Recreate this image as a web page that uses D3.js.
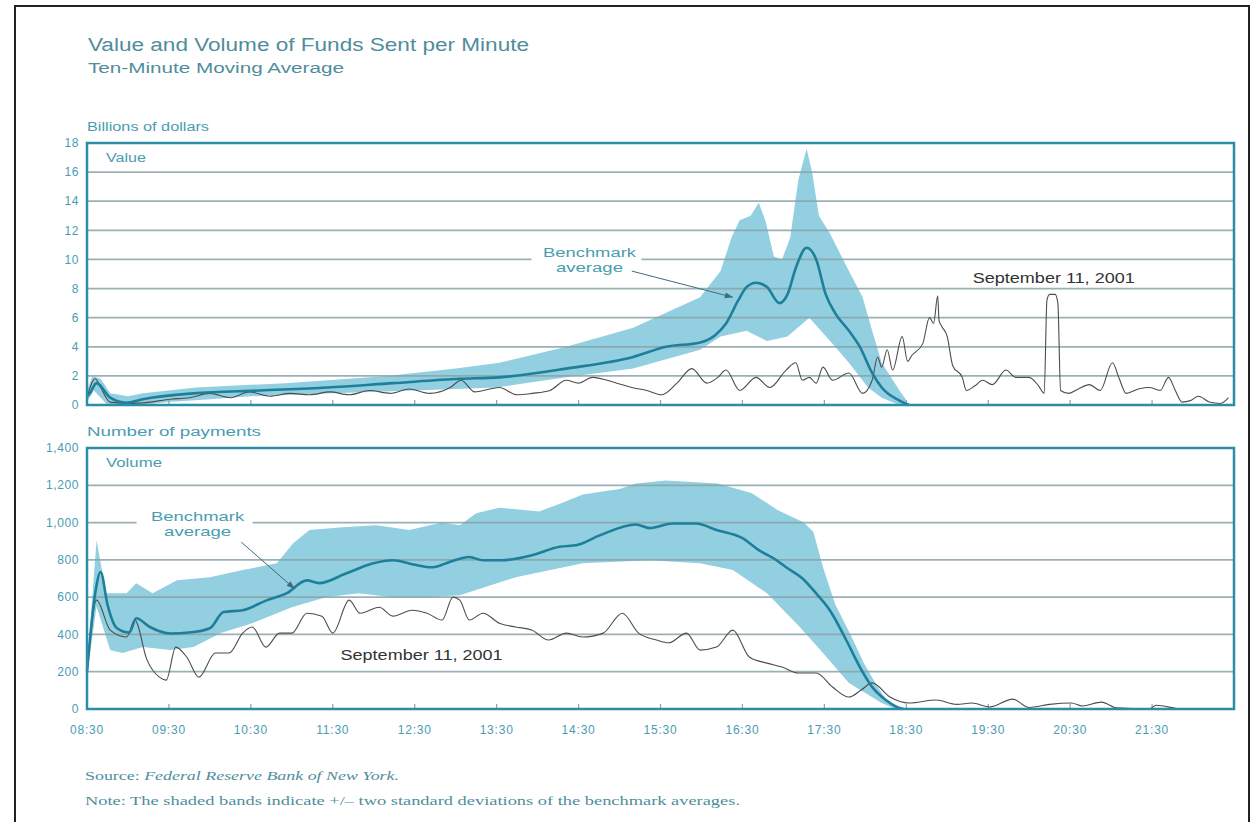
<!DOCTYPE html>
<html>
<head>
<meta charset="utf-8">
<script src="https://cdn.jsdelivr.net/npm/d3@7"></script>
<style>
  body { margin: 0; background: #fff; }
  svg { display: block; }
</style>
</head>
<body>
<div id="chart"></div>
<script>
// axis ticks
const timeTicks = ["08:30","09:30","10:30","11:30","12:30","13:30","14:30","15:30","16:30","17:30","18:30","19:30","20:30","21:30"];
const valueTicks = [0, 2, 4, 6, 8, 10, 12, 14, 16, 18];
const volumeTicks = [0, 200, 400, 600, 800, 1000, 1200, 1400];

// value panel (billions of dollars)
const valueBench = [
  ["08:30",0.6],["08:32",0.8],["08:37",1.5],["08:47",0.5],["08:59",0.15],["09:11",0.4],["09:48",0.8],
  ["10:37",1.0],["11:26",1.2],["12:14",1.5],["13:03",1.8],["13:32",1.9],["14:21",2.5],["15:10",3.3],
  ["15:34",4.0],["15:59",4.3],["16:10",4.8],["16:18",5.6],["16:27",7.2],["16:33",8.1],["16:40",8.4],
  ["16:48",8.1],["16:57",7.0],["17:03",7.6],["17:09",9.4],["17:17",10.8],["17:24",10.0],["17:31",7.6],
  ["17:38",6.3],["17:48",5.1],["17:56",4.0],["18:05",2.2],["18:12",1.2],["18:25",0.3],["18:32",0]
];
const valueUpper = [
  ["08:30",1.0],["08:34",2.0],["08:40",1.8],["08:47",0.8],["09:00",0.6],["09:11",0.8],["09:50",1.2],
  ["10:55",1.5],["12:10",2.0],["13:00",2.5],["13:32",2.9],["14:21",4.0],["15:10",5.3],["15:59",7.4],
  ["16:14",9.2],["16:22",11.5],["16:28",12.7],["16:36",13.0],["16:42",13.9],["16:47",12.6],["16:53",10.2],
  ["16:59",10.0],["17:05",11.5],["17:11",15.5],["17:17",17.6],["17:21",16.0],["17:26",13.0],["17:34",11.8],
  ["17:48",9.2],["17:58",7.4],["18:05",5.1],["18:12",2.9],["18:25",1.0],["18:31",0.2]
];
const valueLower = [
  ["08:30",0.2],["08:35",1.0],["08:45",0],["09:10",0],["09:30",0.2],["10:00",0.4],["10:30",0.6],
  ["11:30",0.8],["12:30",1.0],["13:30",1.2],["14:21",1.9],["15:10",2.5],["15:59",3.8],["16:14",4.7],
  ["16:33",5.1],["16:48",4.4],["17:03",4.7],["17:19",6.0],["17:36",4.2],["17:48",2.9],["18:02",1.2],
  ["18:12",0.5],["18:25",0]
];
const valueSep11 = [
  ["08:30",0.5],["08:36",1.8],["08:40",1.2],["08:47",0.2],["09:01",0.1],["09:16",0.2],["09:31",0.4],
  ["09:45",0.5],["10:00",0.8],["10:15",0.5],["10:29",0.9],["10:44",0.6],["10:59",0.8],["11:13",0.7],
  ["11:28",0.9],["11:42",0.7],["11:57",1.0],["12:12",0.8],["12:26",1.1],["12:41",0.8],["12:56",1.2],
  ["13:04",1.7],["13:14",0.9],["13:25",1.1],["13:32",1.2],["13:45",0.7],["13:56",0.8],["14:09",1.0],
  ["14:21",1.7],["14:30",1.5],["14:40",1.9],["14:58",1.5],["15:09",1.2],["15:20",1.0],["15:31",0.7],
  ["15:42",1.5],["15:53",2.5],["16:04",1.5],["16:12",1.9],["16:18",2.4],["16:28",1.0],["16:40",1.9],
  ["16:50",1.2],["17:02",2.4],["17:09",2.9],["17:14",1.7],["17:19",1.9],["17:24",1.5],["17:29",2.6],
  ["17:36",1.7],["17:48",2.2],["17:58",0.8],["18:05",1.7],["18:09",3.3],["18:12",2.6],["18:16",3.8],
  ["18:20",2.4],["18:27",4.7],["18:31",3.0],["18:34",3.4],["18:42",4.2],["18:47",6.0],["18:50",5.6],
  ["18:53",7.5],["18:54",5.8],["18:56",5.4],["19:00",4.7],["19:04",2.7],["19:11",1.9],["19:14",1.0],
  ["19:20",1.3],["19:26",1.7],["19:33",1.4],["19:43",2.4],["19:50",1.9],["20:00",1.9],["20:07",1.3],
  ["20:11",0.8],["20:13",7.2],["20:15",7.6],["20:19",7.6],["20:21",7.0],["20:23",1.0],["20:29",0.8],
  ["20:36",1.1],["20:44",1.4],["20:52",1.0],["21:01",2.9],["21:06",1.8],["21:11",0.8],["21:20",1.1],
  ["21:28",1.2],["21:36",1.0],["21:42",1.9],["21:47",1.0],["21:52",0.2],["21:58",0.3],["22:04",0.6],
  ["22:12",0.2],["22:20",0.1],["22:26",0.5]
];

// volume panel (number of payments)
const volumeBench = [
  ["08:30",200],["08:36",620],["08:40",735],["08:45",560],["08:52",433],["09:01",410],["09:06",487],
  ["09:16",440],["09:31",405],["09:45",410],["10:00",433],["10:10",520],["10:24",530],["10:42",584],
  ["10:56",620],["11:11",690],["11:20",675],["11:40",728],["11:59",780],["12:14",798],["12:29",775],
  ["12:43",760],["12:56",790],["13:10",815],["13:20",798],["13:34",798],["13:56",825],["14:16",870],
  ["14:29",880],["14:45",930],["15:12",990],["15:22",970],["15:39",995],["15:56",995],["16:11",960],
  ["16:30",916],["16:42",852],["16:55",798],["17:02",760],["17:14",700],["17:24",620],["17:34",530],
  ["17:46",370],["17:56",225],["18:05",118],["18:15",48],["18:23",11],["18:28",0]
];
const volumeUpper = [
  ["08:30",220],["08:37",905],["08:44",621],["08:59",621],["09:06",675],["09:18",621],["09:36",690],
  ["10:00",707],["10:24",745],["10:49",782],["11:01",889],["11:13",960],["11:37",975],["12:02",985],
  ["12:26",960],["12:50",1000],["13:03",985],["13:15",1050],["13:32",1080],["14:01",1060],["14:16",1100],
  ["14:33",1150],["15:00",1180],["15:12",1210],["15:34",1226],["16:12",1210],["16:37",1157],
  ["16:56",1066],["17:15",1000],["17:22",950],["17:29",760],["17:38",560],["17:50",386],["17:59",246],
  ["18:09",118],["18:17",32],["18:25",0]
];
const volumeLower = [
  ["08:30",180],["08:37",550],["08:47",316],["08:56",300],["09:11",332],["09:31",316],["09:48",332],
  ["10:08",407],["10:31",460],["11:00",546],["11:25",600],["11:49",621],["12:14",600],["12:38",600],
  ["13:03",610],["13:20",650],["13:44",707],["14:33",782],["15:22",798],["15:59",782],["16:23",745],
  ["16:48",621],["17:12",440],["17:29",300],["17:48",140],["18:00",86],["18:12",32],["18:22",0]
];
const volumeSep11 = [
  ["08:30",193],["08:37",584],["08:47",423],["08:59",386],["09:05",477],["09:14",262],["09:23",171],
  ["09:28",155],["09:35",332],["09:43",279],["09:52",171],["10:04",300],["10:14",300],["10:24",407],
  ["10:31",440],["10:41",332],["10:51",407],["11:00",407],["11:11",514],["11:22",498],["11:30",407],
  ["11:42",584],["11:50",514],["12:04",546],["12:14",498],["12:28",530],["12:39",514],["12:50",477],
  ["12:58",600],["13:03",584],["13:10",477],["13:20",514],["13:32",460],["13:44",440],["13:56",423],
  ["14:08",370],["14:21",407],["14:33",386],["14:48",407],["15:02",514],["15:14",407],["15:27",370],
  ["15:36",355],["15:49",407],["15:59",316],["16:11",332],["16:23",423],["16:35",279],["16:48",246],
  ["16:59",225],["17:11",193],["17:24",193],["17:36",118],["17:48",64],["17:57",102],["18:05",140],
  ["18:18",64],["18:32",32],["18:52",48],["19:07",25],["19:18",32],["19:31",11],["19:48",53],
  ["20:00",8],["20:15",25],["20:31",32],["20:39",16],["20:53",37],["21:04",6],["21:28",0],["21:33",20],
  ["21:52",0],["22:26",0]
];

const W = 1252, H = 822;
const TEAL_TEXT = "#4a9cb2";
const TITLE = "#4f8d9c";
const FRAME = "#2b8ea6";
const GRID = "#8aa3a8";
const BAND = "#92cfe1";
const BENCH = "#1d7f99";
const SEP = "#4d4d4d";

const parse = d3.timeParse("%H:%M");
const x = d3.scaleTime().domain([parse("08:30"), parse("22:30")]).range([87, 1234]);

const svg = d3.select("#chart").append("svg")
  .attr("width", W).attr("height", H)
  .style("font-family", "'Liberation Sans', Arial, sans-serif");

// stretch a text to the width it has in the picture
const fit = (sel, len) => sel.attr("textLength", len).attr("lengthAdjust", "spacingAndGlyphs");

// outer frame
svg.append("rect")
  .attr("x", 15).attr("y", 6).attr("width", 1234).attr("height", 830)
  .attr("fill", "none").attr("stroke", "#222").attr("stroke-width", 2);

svg.append("text").attr("x", 88).attr("y", 51)
  .attr("fill", TITLE).style("font-size", "18px")
  .text("Value and Volume of Funds Sent per Minute").call(fit, 441);
svg.append("text").attr("x", 88).attr("y", 73)
  .attr("fill", TITLE).style("font-size", "14px")
  .text("Ten-Minute Moving Average").call(fit, 256);

const drawPanel = (cfg) => {
  const { y, ticks, fmt, unit, name, bench, upper, lower, sep } = cfg;
  const [bottom, top] = y.range();
  const g = svg.append("g");

  g.append("text").attr("x", 87).attr("y", top - 12)
    .attr("fill", TEAL_TEXT).style("font-size", "12.5px").text(unit).call(fit, cfg.unitLen);

  // band
  const pts = upper.map(d => [x(parse(d[0])), y(d[1])])
    .concat(lower.slice().reverse().map(d => [x(parse(d[0])), y(d[1])]));
  g.append("path")
    .attr("d", d3.line()(pts) + "Z")
    .attr("fill", BAND);

  // gridlines
  g.selectAll(".grid").data(ticks.filter(t => t !== ticks[0] && t !== ticks[ticks.length - 1]))
    .join("line")
    .attr("x1", 87).attr("x2", 1234)
    .attr("y1", d => y(d)).attr("y2", d => y(d))
    .attr("stroke", GRID).attr("stroke-width", 1.8).attr("opacity", 0.85);

  // y tick labels
  g.selectAll(".yl").data(ticks).join("text")
    .attr("x", 79).attr("y", d => y(d)).attr("dy", "0.35em")
    .attr("text-anchor", "end").attr("fill", TEAL_TEXT)
    .style("font-size", "12px").style("letter-spacing", "0.6px").text(d => fmt(d));

  // hour ticks on the bottom edge
  g.selectAll(".xt").data(timeTicks.slice(1)).join("line")
    .attr("x1", d => x(parse(d))).attr("x2", d => x(parse(d)))
    .attr("y1", bottom).attr("y2", bottom - 5)
    .attr("stroke", GRID).attr("stroke-width", 1.2);

  // benchmark knock-out + label
  const lab = cfg.label;
  const cx = x(parse(lab.t));
  g.append("rect")
    .attr("x", cx - lab.w / 2 - 3).attr("y", y(lab.v) - 3)
    .attr("width", lab.w).attr("height", 6).attr("fill", "#fff");
  g.append("text").attr("x", cx).attr("y", y(lab.v) - 2).attr("text-anchor", "middle")
    .attr("fill", TEAL_TEXT).style("font-size", "13.5px").text("Benchmark").call(fit, 93);
  g.append("text").attr("x", cx).attr("y", y(lab.v) + 13).attr("text-anchor", "middle")
    .attr("fill", TEAL_TEXT).style("font-size", "13.5px").text("average").call(fit, 67);

  // sept 11 line
  g.append("path")
    .attr("d", d3.line().x(d => x(parse(d[0]))).y(d => y(d[1])).curve(d3.curveMonotoneX)(sep))
    .attr("fill", "none").attr("stroke", SEP).attr("stroke-width", 1.1);

  // benchmark line
  g.append("path")
    .attr("d", d3.line().x(d => x(parse(d[0]))).y(d => y(d[1])).curve(d3.curveMonotoneX)(bench))
    .attr("fill", "none").attr("stroke", BENCH).attr("stroke-width", 2.6);

  // arrow
  const a = cfg.arrow;
  const x1 = x(parse(a.from[0])), y1 = y(a.from[1]);
  const x2 = x(parse(a.to[0])), y2 = y(a.to[1]);
  const ang = Math.atan2(y2 - y1, x2 - x1);
  g.append("line").attr("x1", x1).attr("y1", y1).attr("x2", x2).attr("y2", y2)
    .attr("stroke", "#3a6e7c").attr("stroke-width", 1);
  const hl = 8, hw = 3;
  g.append("path")
    .attr("d", `M${x2},${y2}L${x2 - hl * Math.cos(ang) + hw * Math.sin(ang)},${y2 - hl * Math.sin(ang) - hw * Math.cos(ang)}L${x2 - hl * Math.cos(ang) - hw * Math.sin(ang)},${y2 - hl * Math.sin(ang) + hw * Math.cos(ang)}Z`)
    .attr("fill", "#3a6e7c");

  // sept 11 label
  g.append("text").attr("x", x(parse(cfg.sepLabel.t))).attr("y", y(cfg.sepLabel.v))
    .attr("text-anchor", "middle").attr("fill", "#333")
    .style("font-size", "14px").text("September 11, 2001").call(fit, 162);

  // frame
  g.append("rect").attr("x", 87).attr("y", top).attr("width", 1234 - 87).attr("height", bottom - top)
    .attr("fill", "none").attr("stroke", FRAME).attr("stroke-width", 2.5);

  g.append("text").attr("x", 106).attr("y", top + 19)
    .attr("fill", TEAL_TEXT).style("font-size", "12.5px").text(name).call(fit, cfg.nameLen);
};

const yVal = d3.scaleLinear().domain([0, 18]).range([405, 143]);
const yVol = d3.scaleLinear().domain([0, 1400]).range([709, 448]);

drawPanel({
  y: yVal, ticks: valueTicks, fmt: d3.format("d"), unit: "Billions of dollars", name: "Value",
  unitLen: 122, nameLen: 40,
  bench: valueBench, upper: valueUpper, lower: valueLower, sep: valueSep11,
  label: { t: "14:38", v: 10, w: 110 },
  arrow: { from: ["15:09", 9.2], to: ["16:23", 7.4] },
  sepLabel: { t: "20:18", v: 8.4 }
});

drawPanel({
  y: yVol, ticks: volumeTicks, fmt: d3.format(","), unit: "Number of payments", name: "Volume",
  unitLen: 174, nameLen: 56,
  bench: volumeBench, upper: volumeUpper, lower: volumeLower, sep: volumeSep11,
  label: { t: "09:51", v: 1000, w: 116 },
  arrow: { from: ["10:23", 895], to: ["11:02", 645] },
  sepLabel: { t: "12:35", v: 262 }
});

// time labels
svg.selectAll(".tl").data(timeTicks).join("text")
  .attr("x", d => x(parse(d))).attr("y", 734)
  .attr("text-anchor", "middle").attr("fill", TEAL_TEXT)
  .style("font-size", "12px").style("letter-spacing", "0.8px").text(d => d);

// notes
const serif = "'Liberation Serif', 'DejaVu Serif', serif";
const src = svg.append("text").attr("x", 85).attr("y", 780)
  .attr("fill", TITLE).style("font-family", serif).style("font-size", "12.5px")
  .call(fit, 314);
src.append("tspan").text("Source: ");
src.append("tspan").style("font-style", "italic").text("Federal Reserve Bank of New York.");

svg.append("text").attr("x", 85).attr("y", 805)
  .attr("fill", TITLE).style("font-family", serif).style("font-size", "12.5px")
  .text("Note: The shaded bands indicate +/\u2013 two standard deviations of the benchmark averages.")
  .call(fit, 655);
</script>
</body>
</html>
